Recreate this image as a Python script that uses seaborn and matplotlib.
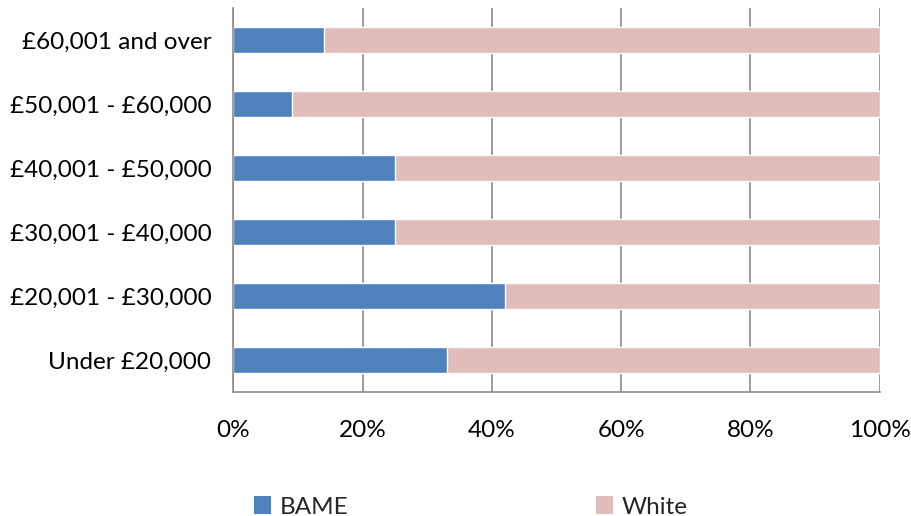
import matplotlib
matplotlib.use("Agg")
import matplotlib.pyplot as plt
import seaborn as sns
import pandas as pd
from matplotlib.patches import Patch
from matplotlib.ticker import FuncFormatter

categories = ["£60,001 and over", "£50,001 - £60,000", "£40,001 - £50,000",
              "£30,001 - £40,000", "£20,001 - £30,000", "Under £20,000"]
bame = [14, 9, 25, 25, 42, 33]
white = [100 - b for b in bame]
series_names = ["BAME", "White"]
colors = {"BAME": "#4F81BD", "White": "#E2BBBB"}

sns.set_theme(style="white")
plt.rcParams["font.family"] = ["Lato", "DejaVu Sans"]

df = pd.DataFrame({"band": categories, "BAME": bame, "White": white})
df["total"] = df["BAME"] + df["White"]

fig = plt.figure(figsize=(9.12, 5.16), dpi=100)
ax = fig.add_axes([233.5 / 912, 1 - 392 / 516, (879.5 - 233.5) / 912, (392 - 8) / 516])

# Stacked bars: draw total (White) first, then BAME on top
sns.barplot(data=df, x="total", y="band", orient="h", color=colors["White"],
            width=0.41, ax=ax, saturation=1, order=categories)
sns.barplot(data=df, x="BAME", y="band", orient="h", color=colors["BAME"],
            width=0.41, ax=ax, saturation=1, order=categories)

ax.set_xlim(0, 100)
ax.set_ylim(5.5, -0.5)
ax.set_xticks(range(0, 101, 20))
ax.xaxis.set_major_formatter(FuncFormatter(lambda v, p: f"{int(v)}%"))
ax.grid(axis="x", color="#8C8C8C", linewidth=1.2)
ax.set_axisbelow(True)
ax.set_xlabel("")
ax.set_ylabel("")
for side in ["top", "right"]:
    ax.spines[side].set_visible(False)
for side in ["left", "bottom"]:
    ax.spines[side].set_color("#8C8C8C")
    ax.spines[side].set_linewidth(1.2)
ax.tick_params(axis="both", length=0, labelsize=17.5, colors="black")
ax.tick_params(axis="x", pad=20)
ax.tick_params(axis="y", pad=16)

handles = [Patch(facecolor=colors[n], edgecolor="none") for n in series_names]
fig.legend(handles, series_names, loc="center", bbox_to_anchor=(0.516, 1 - 507 / 516),
           ncol=2, frameon=False, fontsize=17.5, handlelength=0.7, handleheight=0.7,
           handletextpad=0.35, columnspacing=10.2)

fig.savefig("out.png", dpi=100, facecolor="white")
